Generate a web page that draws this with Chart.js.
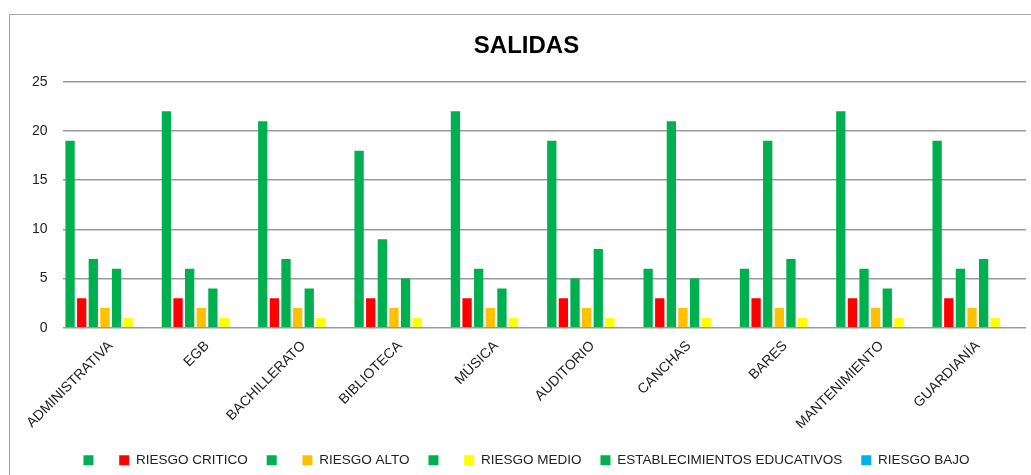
<!DOCTYPE html>
<html>
<head>
<meta charset="utf-8">
<script src="https://cdn.jsdelivr.net/npm/chart.js@4.4.1/dist/chart.umd.min.js"></script>
<style>
  html, body { margin: 0; padding: 0; background: #ffffff; overflow: hidden; width: 1031px; height: 475px; }
  #frame { position: absolute; left: 9px; top: 14px; width: 1060px; height: 520px; border: 1px solid #a6a6a6; background: #fff; }
  #wrap { position: absolute; left: 10px; top: 15px; width: 1040px; height: 465px; }
</style>
</head>
<body>
<div id="frame"></div>
<div id="wrap"><canvas id="c" width="1040" height="465"></canvas></div>
<script>
const categories = ['ADMINISTRATIVA', 'EGB', 'BACHILLERATO', 'BIBLIOTECA', 'MÚSICA', 'AUDITORIO', 'CANCHAS', 'BARES', 'MANTENIMIENTO', 'GUARDIANÍA'];
const serieVerde1 = [19, 22, 21, 18, 22, 19, 6, 6, 22, 19];
const riesgoCritico = [3, 3, 3, 3, 3, 3, 3, 3, 3, 3];
const serieVerde2 = [7, 6, 7, 9, 6, 5, 21, 19, 6, 6];
const riesgoAlto = [2, 2, 2, 2, 2, 2, 2, 2, 2, 2];
const serieVerde3 = [6, 4, 4, 5, 4, 8, 5, 7, 4, 7];
const riesgoMedio = [1, 1, 1, 1, 1, 1, 1, 1, 1, 1];
const establecimientosEducativos = [0, 0, 0, 0, 0, 0, 0, 0, 0, 0];
const riesgoBajo = [0, 0, 0, 0, 0, 0, 0, 0, 0, 0];
const seriesLabels = ['', 'RIESGO CRITICO', '', 'RIESGO ALTO', '', 'RIESGO MEDIO', 'ESTABLECIMIENTOS EDUCATIVOS', 'RIESGO BAJO'];
const yTicks = [0, 5, 10, 15, 20, 25];

const GREEN = '#00B050', RED = '#FF0000', ORANGE = '#FFC000', YELLOW = '#FFFF00', BLUE = '#00B0F0';
const seriesData = [serieVerde1, riesgoCritico, serieVerde2, riesgoAlto, serieVerde3, riesgoMedio, establecimientosEducativos, riesgoBajo];
const seriesColors = [GREEN, RED, GREEN, ORANGE, GREEN, YELLOW, GREEN, BLUE];

const datasets = seriesData.map((d, i) => ({
  label: seriesLabels[i],
  data: d,
  backgroundColor: seriesColors[i],
  borderWidth: 0,
  categoryPercentage: 0.965,
  barPercentage: 0.8
}));

const shiftCenter = {
  id: 'shiftCenter',
  afterLayout(chart) {
    [chart.titleBlock, chart.legend].forEach(b => {
      if (b) { b.left += 5; b.right += 5; }
    });
  }
};

new Chart(document.getElementById('c'), {
  type: 'bar',
  data: { labels: categories, datasets },
  plugins: [shiftCenter],
  options: {
    responsive: false,
    animation: false,
    layout: { padding: { left: 7, right: 24, top: 0, bottom: 3 } },
    plugins: {
      title: {
        display: true,
        text: 'SALIDAS',
        color: '#000',
        font: { family: 'Liberation Sans', size: 24, weight: 'bold' },
        padding: { top: 17, bottom: 21 }
      },
      legend: {
        position: 'bottom',
        labels: {
          boxWidth: 10,
          boxHeight: 10,
          padding: 19,
          color: '#222',
          font: { family: 'Liberation Sans', size: 13.5 }
        }
      },
      tooltip: { enabled: false }
    },
    scales: {
      x: {
        grid: { display: false },
        border: { display: false },
        ticks: {
          color: '#222',
          font: { family: 'Liberation Sans', size: 14 },
          maxRotation: 45,
          minRotation: 45,
          autoSkip: false,
          padding: 2
        }
      },
      y: {
        min: 0,
        max: 25,
        afterBuildTicks: (axis) => { axis.ticks = yTicks.map(v => ({ value: v })); },
        grid: { color: '#9a9a9a', lineWidth: 1.5, drawTicks: false },
        border: { display: false },
        ticks: {
          color: '#222',
          font: { family: 'Liberation Sans', size: 14 },
          padding: 15
        }
      }
    }
  }
});
</script>
</body>
</html>
